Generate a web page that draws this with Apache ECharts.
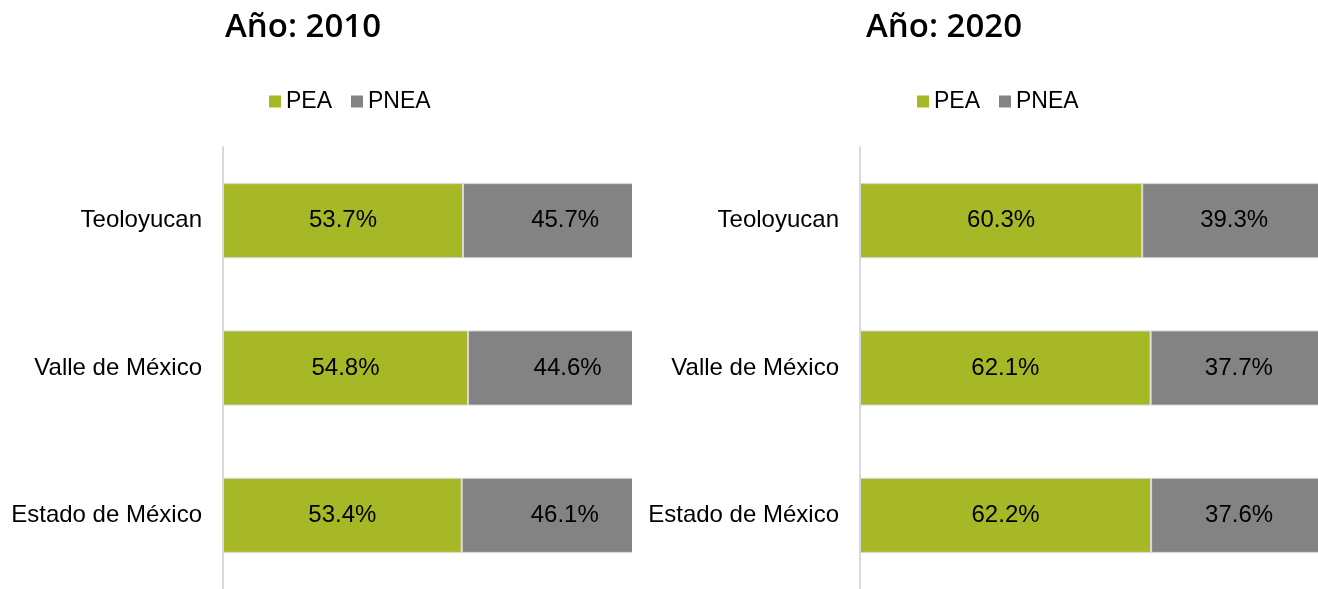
<!DOCTYPE html>
<html>
<head>
<meta charset="utf-8">
<script src="https://cdn.jsdelivr.net/npm/echarts@6/dist/echarts.min.js"></script>
<style>
html,body{margin:0;padding:0;background:#fff;width:1318px;height:589px;overflow:hidden;}
.wrap{position:absolute;top:0;height:589px;overflow:hidden;}
#w1{left:0;width:632px;}
#w2{left:632px;width:686px;}
#c1{position:absolute;left:0;top:0;width:720px;height:589px;}
#c2{position:absolute;left:0;top:0;width:740px;height:589px;}
</style>
</head>
<body>
<div class="wrap" id="w1"><div id="c1"></div></div>
<div class="wrap" id="w2"><div id="c2"></div></div>
<script>
const categories = ["Teoloyucan", "Valle de México", "Estado de México"];
const seriesNames = ["PEA", "PNEA"];
const pea2010 = [53.7, 54.8, 53.4];
const pnea2010 = [45.7, 44.6, 46.1];
const pea2020 = [60.3, 62.1, 62.2];
const pnea2020 = [39.3, 37.7, 37.6];
const titles = ["Año: 2010", "Año: 2020"];

const GREEN = "#a7b827";
const GRAY = "#838383";
const FONT = "Liberation Sans, Arial, sans-serif";

function makeOption(title, pea, pnea, gridLeft, gridWidth, legendLeft, titleLeft) {
  const lbl = {
    show: true, position: "inside", fontSize: 24, color: "#000", fontFamily: FONT,
    formatter: p => p.value.toFixed(1) + "%"
  };
  return {
    animation: false,
    title: {
      text: title, left: titleLeft, top: 6,
      textStyle: { fontFamily: "Open Sans, sans-serif", fontWeight: 600, fontSize: 33, color: "#000" }
    },
    legend: {
      data: seriesNames, left: legendLeft, top: 85, icon: "rect",
      itemWidth: 12, itemHeight: 12, itemGap: 19,
      itemStyle: { borderWidth: 0 },
      textStyle: { fontSize: 23, color: "#000", fontFamily: FONT, padding: [0, 0, 0, 0] }
    },
    grid: { left: gridLeft, top: 147, width: gridWidth, height: 446, containLabel: false },
    xAxis: { type: "value", min: 0, max: 100, show: false },
    yAxis: {
      type: "category", data: categories, inverse: true,
      axisLine: { show: true, lineStyle: { color: "#d9d9d9", width: 2 } },
      axisTick: { show: false },
      axisLabel: { fontSize: 24, color: "#000", fontFamily: FONT, margin: 21 },
      splitLine: { show: false }
    },
    series: [
      { name: seriesNames[0], type: "bar", stack: "t", data: pea, barWidth: "51%",
        itemStyle: { color: GREEN, borderColor: "#d9d9d9", borderWidth: 1 }, label: lbl },
      { name: seriesNames[1], type: "bar", stack: "t", data: pnea, barWidth: "51%",
        itemStyle: { color: GRAY, borderColor: "#d9d9d9", borderWidth: 1 }, label: lbl }
    ]
  };
}

const ch1 = echarts.init(document.getElementById("c1"), null, { renderer: "canvas" });
ch1.setOption(makeOption(titles[0], pea2010, pnea2010, 223, 447, 264, 220));
const ch2 = echarts.init(document.getElementById("c2"), null, { renderer: "canvas" });
ch2.setOption(makeOption(titles[1], pea2020, pnea2020, 228, 468, 280, 229));
</script>
</body>
</html>
